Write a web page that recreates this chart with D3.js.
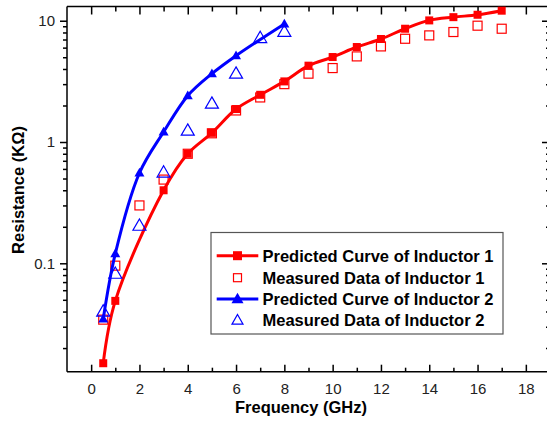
<!DOCTYPE html>
<html><head><meta charset="utf-8">
<script src="https://cdn.jsdelivr.net/npm/d3@7"></script>
<style>body{margin:0;background:#fff;} svg{display:block;}</style>
</head><body><svg id="c" width="547" height="421"></svg>
<script>
// Data
const pred1X = [0.5, 1, 3, 4, 5, 6, 7, 8, 9, 10, 11, 12, 13, 14, 15, 16, 17];
const pred1Y = [0.015, 0.049, 0.40, 0.80, 1.19, 1.87, 2.45, 3.16, 4.26, 5.02, 6.07, 7.07, 8.59, 10.06, 10.7, 11.2, 12.1];
const meas1X = [0.5, 1, 2, 3, 4, 5, 6, 7, 8, 9, 10, 11, 12, 13, 14, 15, 16, 17];
const meas1Y = [0.0343, 0.0956, 0.30, 0.49, 0.80, 1.18, 1.82, 2.33, 3.0, 3.66, 4.07, 5.08, 6.14, 7.1, 7.57, 8.07, 9.1, 8.59];
const pred2X = [0.5, 1, 2, 3, 4, 5, 6, 8];
const pred2Y = [0.0347, 0.12, 0.555, 1.21, 2.41, 3.66, 5.15, 9.4];
const meas2X = [0.5, 1, 2, 3, 4, 5, 6, 7, 8];
const meas2Y = [0.040, 0.082, 0.204, 0.56, 1.24, 2.07, 3.66, 7.2, 8.1];
const xTicks = [0, 2, 4, 6, 8, 10, 12, 14, 16, 18];
const xMinorTicks = [1, 3, 5, 7, 9, 11, 13, 15, 17];
const yTickLabels = [0.1, 1, 10];
const legendLabels = ["Predicted Curve of Inductor 1", "Measured Data of Inductor 1", "Predicted Curve of Inductor 2", "Measured Data of Inductor 2"];

const RED = "#ff0000", BLUE = "#0000ff";
const svg = d3.select("#c");
const L = 67, R = 550, T = 6.5, B = 371.7;
const x = d3.scaleLinear().domain([-1, 19]).range([L, R]);
const y = d3.scaleLog().domain([0.01277, 13.1]).range([B, T]);

const yMinor = [];
[0.01, 0.1, 1].forEach(d => { for (let k = 2; k <= 9; k++) { const v = d * k; if (v >= 0.01277 && v <= 13.1) yMinor.push(v); } });

const font = "'Liberation Sans', Arial, sans-serif";
const g = svg.append("g");

function axisLines() {
  const st = (s) => s.attr("stroke", "#000").attr("stroke-width", 1.5);
  st(g.append("line").attr("x1", L).attr("x2", R).attr("y1", B).attr("y2", B));
  st(g.append("line").attr("x1", L).attr("x2", R).attr("y1", T).attr("y2", T));
  st(g.append("line").attr("x1", L).attr("x2", L).attr("y1", T).attr("y2", B));
  st(g.append("line").attr("x1", R).attr("x2", R).attr("y1", T).attr("y2", B));
}
axisLines();

const xb = d3.axisBottom(x).tickValues(xTicks).tickSizeInner(-7).tickSizeOuter(0).tickPadding(12).tickFormat(d3.format("d"));
g.append("g").attr("transform", `translate(0,${B})`).call(xb);
g.append("g").attr("transform", `translate(0,${B})`).call(d3.axisBottom(x).tickValues(xMinorTicks).tickSizeInner(-4).tickSizeOuter(0).tickFormat(""));
g.append("g").attr("transform", `translate(0,${T})`).call(d3.axisTop(x).tickValues(xTicks).tickSizeInner(-8).tickSizeOuter(0).tickFormat(""));
g.append("g").attr("transform", `translate(0,${T})`).call(d3.axisTop(x).tickValues(xMinorTicks).tickSizeInner(-5).tickSizeOuter(0).tickFormat(""));
g.append("g").attr("transform", `translate(${L},0)`).call(d3.axisLeft(y).tickValues(yTickLabels).tickSizeInner(7).tickSizeOuter(0).tickPadding(5).tickFormat(d => d >= 1 ? d3.format("d")(d) : d3.format(".1f")(d)));
g.append("g").attr("transform", `translate(${L},0)`).call(d3.axisLeft(y).tickValues(yMinor).tickSizeInner(4).tickSizeOuter(0).tickFormat(""));
g.append("g").attr("transform", `translate(${R},0)`).call(d3.axisRight(y).tickValues(yTickLabels).tickSizeInner(-8).tickSizeOuter(0).tickFormat(""));
g.append("g").attr("transform", `translate(${R},0)`).call(d3.axisRight(y).tickValues(yMinor).tickSizeInner(-4).tickSizeOuter(0).tickFormat(""));

g.selectAll(".domain").remove();
g.selectAll(".tick line").attr("stroke", "#000").attr("stroke-width", 1.5);
g.selectAll(".tick text").attr("font-family", font).attr("font-size", 15).attr("fill", "#222");

g.append("text").attr("x", 301).attr("y", 413).attr("text-anchor", "middle")
  .attr("font-family", font).attr("font-weight", "bold").attr("font-size", 16.5).text("Frequency (GHz)");
g.append("text").attr("transform", "translate(24,190) rotate(-90)").attr("text-anchor", "middle")
  .attr("font-family", font).attr("font-weight", "bold").attr("font-size", 16.5).text("Resistance (KΩ)");

const sqFilled = 8, sqOpen = 9, triFilled = 10, triOpen = 13;
function triPath(cx, cy, w) {
  const h = w * 0.87;
  return `M${cx},${cy - h * 0.6}L${cx + w / 2},${cy + h * 0.4}L${cx - w / 2},${cy + h * 0.4}Z`;
}
const line = d3.line().x(d => x(d[0])).y(d => y(d[1])).curve(d3.curveCatmullRom.alpha(0.5));

const p1 = pred1X.map((v, i) => [v, pred1Y[i]]);
const m1 = meas1X.map((v, i) => [v, meas1Y[i]]);
const p2 = pred2X.map((v, i) => [v, pred2Y[i]]);
const m2 = meas2X.map((v, i) => [v, meas2Y[i]]);

const plot = svg.append("g");
plot.append("path").datum(p1).attr("d", line).attr("fill", "none").attr("stroke", RED).attr("stroke-width", 3);
plot.selectAll(".p1").data(p1).enter().append("rect")
  .attr("x", d => x(d[0]) - sqFilled / 2).attr("y", d => y(d[1]) - sqFilled / 2)
  .attr("width", sqFilled).attr("height", sqFilled).attr("fill", RED);
plot.selectAll(".m1").data(m1).enter().append("rect")
  .attr("x", d => x(d[0]) - sqOpen / 2).attr("y", d => y(d[1]) - sqOpen / 2)
  .attr("width", sqOpen).attr("height", sqOpen).attr("fill", "none").attr("stroke", RED).attr("stroke-width", 1.2);
plot.append("path").datum(p2).attr("d", line).attr("fill", "none").attr("stroke", BLUE).attr("stroke-width", 3);
plot.selectAll(".p2").data(p2).enter().append("path")
  .attr("d", d => triPath(x(d[0]), y(d[1]), triFilled)).attr("fill", BLUE);
plot.selectAll(".m2").data(m2).enter().append("path")
  .attr("d", d => triPath(x(d[0]), y(d[1]), triOpen)).attr("fill", "none").attr("stroke", BLUE).attr("stroke-width", 1.2);

const lg = svg.append("g");
lg.append("rect").attr("x", 211).attr("y", 232.5).attr("width", 292).attr("height", 101.5)
  .attr("fill", "#fff").attr("stroke", "#555").attr("stroke-width", 1.2);
const rowsY = [255.7, 277.7, 299, 320.3];
const lx1 = 216.7, lx2 = 258.3, lmx = 237.5, tx = 262.5;
legendLabels.forEach((lab, i) => {
  const cy = rowsY[i];
  const col = i < 2 ? RED : BLUE;
  if (i === 0 || i === 2) {
    lg.append("line").attr("x1", lx1).attr("x2", lx2).attr("y1", cy).attr("y2", cy).attr("stroke", col).attr("stroke-width", 3);
  }
  if (i === 0) lg.append("rect").attr("x", lmx - 4.5).attr("y", cy - 4.5).attr("width", 9).attr("height", 9).attr("fill", RED);
  if (i === 1) lg.append("rect").attr("x", lmx - 4).attr("y", cy - 4).attr("width", 8).attr("height", 8).attr("fill", "none").attr("stroke", RED).attr("stroke-width", 1.2);
  if (i === 2) lg.append("path").attr("d", triPath(lmx, cy, 12)).attr("fill", BLUE);
  if (i === 3) lg.append("path").attr("d", triPath(lmx, cy, 11)).attr("fill", "none").attr("stroke", BLUE).attr("stroke-width", 1.2);
  lg.append("text").attr("x", tx).attr("y", cy).attr("dy", "0.36em")
    .attr("font-family", font).attr("font-weight", "bold").attr("font-size", 16.5).attr("fill", "#000").text(lab);
});
</script>
</body></html>
